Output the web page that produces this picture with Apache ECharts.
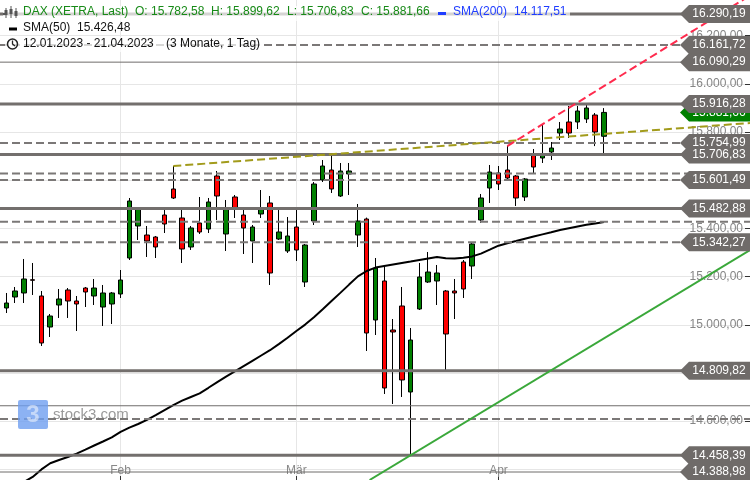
<!DOCTYPE html>
<html><head><meta charset="utf-8">
<script src="https://cdn.jsdelivr.net/npm/echarts@6/dist/echarts.min.js"></script>
<style>html,body{margin:0;padding:0;background:#fff}#c{width:750px;height:480px}</style>
</head><body><div id="c"></div>
<script>
// ---- data ----
const dates = ['12.01.2023','13.01.2023','16.01.2023','17.01.2023','18.01.2023','19.01.2023','20.01.2023','23.01.2023','24.01.2023','25.01.2023','26.01.2023','27.01.2023','30.01.2023','31.01.2023',
 '01.02.2023','02.02.2023','03.02.2023','06.02.2023','07.02.2023','08.02.2023','09.02.2023','10.02.2023','13.02.2023','14.02.2023','15.02.2023','16.02.2023','17.02.2023','20.02.2023','21.02.2023','22.02.2023','23.02.2023','24.02.2023','27.02.2023','28.02.2023',
 '01.03.2023','02.03.2023','03.03.2023','06.03.2023','07.03.2023','08.03.2023','09.03.2023','10.03.2023','13.03.2023','14.03.2023','15.03.2023','16.03.2023','17.03.2023','20.03.2023','21.03.2023','22.03.2023','23.03.2023','24.03.2023','27.03.2023','28.03.2023','29.03.2023','30.03.2023','31.03.2023',
 '03.04.2023','04.04.2023','05.04.2023','06.04.2023','11.04.2023','12.04.2023','13.04.2023','14.04.2023','17.04.2023','18.04.2023','19.04.2023','20.04.2023','21.04.2023'];
const open = [14978.5,15069.8,15115.5,15132.1,15187.0,15119.6,14990.9,15082.2,15144.5,15098.9,15152.8,15119.6,15073.9,15086.4,
 15127.9,15277.3,15410.2,15372.8,15364.5,15455.8,15563.8,15443.4,15323.0,15422.6,15397.7,15617.7,15377.0,15530.6,15455.8,15347.9,15460.0,15505.7,15356.2,15306.4,
 15406.0,15177.7,15430.9,15601.1,15642.6,15534.7,15626.0,15372.8,15439.2,15020.0,15181.9,14978.5,15078.1,14721.1,15065.6,15177.7,15181.9,15140.4,15140.4,15260.7,15244.1,15435.1,15567.9,
 15630.2,15642.6,15617.7,15530.6,15709.0,15692.4,15717.3,15796.2,15841.9,15841.9,15854.3,15870.9,15782.58];
const high = [15078.1,15132.1,15157.0,15273.2,15256.6,15140.4,15044.9,15148.7,15152.8,15119.6,15157.0,15190.2,15165.3,15136.2,
 15227.5,15526.4,15484.9,15410.2,15368.7,15480.7,15659.2,15480.7,15410.2,15530.6,15526.4,15638.5,15518.1,15538.9,15476.6,15414.3,15559.6,15534.7,15480.7,15447.5,
 15480.7,15335.5,15592.8,15684.1,15704.9,15671.7,15671.7,15501.5,15445.0,15277.3,15248.3,15024.1,15157.0,14986.8,15256.6,15302.3,15248.3,15144.5,15190.2,15269.0,15343.8,15543.0,15663.4,
 15659.2,15741.9,15621.9,15609.4,15729.8,15833.6,15758.9,15841.9,15908.3,15908.3,15916.3,15879.2,15899.62];
const low = [14961.9,15049.0,15090.5,15090.5,15123.8,14912.1,14949.4,15028.3,15028.3,14974.3,15073.9,15082.2,14995.1,15003.4,
 15111.3,15269.0,15352.1,15281.5,15277.3,15381.1,15522.2,15256.6,15310.6,15377.0,15381.1,15435.1,15306.4,15443.4,15294.0,15256.6,15443.4,15165.3,15352.1,15298.1,
 15264.9,15157.0,15414.3,15592.8,15547.2,15530.6,15538.9,15323.0,14891.3,14957.7,14712.8,14671.3,14700.4,14458.39,15061.5,15173.6,15082.2,14809.82,15024.1,15111.3,15190.2,15422.6,15505.7,
 15559.6,15605.3,15493.2,15514.0,15630.2,15671.7,15684.1,15767.2,15775.5,15812.8,15837.7,15741.9,15706.83];
const close = [15061.5,15090.5,15140.4,15190.2,15185.0,14924.5,15036.6,15107.2,15098.9,15086.4,15136.2,15152.8,15132.1,15132.1,
 15186.0,15514.0,15480.7,15347.9,15323.0,15418.5,15526.4,15314.7,15401.9,15385.3,15509.8,15534.7,15480.7,15480.7,15401.9,15406.0,15480.7,15215.1,15385.3,15368.7,
 15310.6,15331.3,15584.5,15659.2,15563.8,15638.5,15638.5,15430.9,14966.0,15235.8,14737.7,14970.2,14771.0,14936.9,15198.5,15219.2,15215.1,14961.9,15132.1,15148.7,15335.5,15526.4,15634.3,
 15584.5,15609.4,15526.4,15605.3,15655.1,15704.9,15733.9,15812.8,15796.2,15887.5,15900.0,15800.4,15881.66];
const sma50 = [null,null,null,14347.5,14368.3,14399.8,14425.2,14438.9,14451.3,14465.4,14482.0,14499.0,14515.6,14533.1,
 14555.9,14573.3,14588.3,14605.7,14625.2,14646.0,14666.7,14685.0,14700.4,14715.7,14738.6,14762.2,14785.0,14806.6,14828.6,14850.6,14872.6,14894.6,14920.0,14946.5,
 14974.4,15000.9,15031.6,15064.4,15098.4,15132.5,15166.9,15201.0,15223.4,15237.5,15244.1,15250.4,15256.6,15262.8,15269.1,15275.3,15281.5,15276.1,15274.9,15278.6,15284.0,15295.6,15311.8,
 15328.4,15338.8,15347.9,15357.1,15366.2,15375.3,15384.4,15393.6,15401.0,15408.1,15415.2,15421.0,15426.48];
const yTicks = [14400,14600,14800,15000,15200,15400,15600,15800,16000,16200];
const monthLabels = ['Feb','Mär','Apr'];
const monthStarts = ['01.02.2023','01.03.2023','03.04.2023'];
const solidLevels = [16290.19,15916.28,15706.83,15482.88,14809.82,14458.39];
const dashedLevels = [16161.72,15754.99,15628.0,15601.49,15428.0,15342.27,14609.0];
const thinLevels = [16090.29,14664.0,14388.98];
const taggedLevels = [16290.19,16161.72,16090.29,15916.28,15754.99,15706.83,15601.49,15482.88,15342.27,14809.82,14458.39,14388.98];
const oliveTrend = [[20,15659.2],[85.61,15837.7]];
const redTrend = [[58,15741.9],[85.61,16367.0]];
const greenTrend = [[42.33,14355.8],[85.61,15310.6]];
const legend = {name:'DAX (XETRA, Last)', O:'15.782,58', H:'15.899,62', L:'15.706,83', C:'15.881,66', sma200:'14.117,51', sma50:'15.426,48', range:'12.01.2023 - 21.04.2023', span:'(3 Monate, 1 Tag)'};

// ---- chart ----
const X_MIN = 0.284, X_MAX = 85.61, Y_MIN = 14355.8, Y_MAX = 16348.3;
const FONT = '"Liberation Sans", Arial, sans-serif';
function de(n){ const s = Number(n).toFixed(2).split('.'); return s[0].replace(/\B(?=(\d{3})+(?!\d))/g,'.') + ',' + s[1]; }
const monthIdx = monthStarts.map(d => dates.indexOf(d));

const series = [];
series.push({
  type:'candlestick', z:3,
  data: dates.map((d,i)=>[i, open[i], close[i], low[i], high[i]]),
  encode:{x:0, y:[1,2,3,4]},
  barWidth:5,
  itemStyle:{color:'#008000', color0:'#ff0000', borderColor:'#000', borderColor0:'#000', borderWidth:1}
});
series.push({
  type:'line', z:4, showSymbol:false, silent:true,
  data: sma50.map((v,i)=> v==null?null:[i,v]).filter(p=>p),
  lineStyle:{color:'#000', width:2}
});
function level(v, style){ series.push({type:'line', z:5, showSymbol:false, silent:true, data:[[X_MIN,v],[X_MAX,v]], lineStyle:style}); }
solidLevels.forEach(v=>level(v,{color:'#736f6d', width:3}));
dashedLevels.forEach(v=>level(v,{color:'#7b7877', width:2, type:[8,4]}));
thinLevels.forEach(v=>level(v,{color:'#6f6c6b', width:1}));
function trend(pts, style){ series.push({type:'line', z:6, showSymbol:false, silent:true, data:pts, lineStyle:style}); }
trend(oliveTrend,{color:'#a29b1b', width:2, type:[8,4]});
trend(redTrend,{color:'#ff2a4d', width:2, type:[8,4]});
trend(greenTrend,{color:'#3aa83a', width:2});
const TAG = 'path://M0,9L9,0L70,0L70,18L9,18Z';
function tags(vals, color, z){
  series.push({type:'scatter', z:z, silent:true, symbol:TAG, symbolSize:[70,18], symbolOffset:[-35,0],
    itemStyle:{color:color, opacity:1},
    label:{show:true, position:'inside', offset:[4,0], color:'#fff', fontSize:12, fontFamily:FONT, formatter:p=>de(p.value[1])},
    data: vals.map(v=>[X_MAX, v])});
}
tags([close[close.length-1]], '#008000', 7);
tags(taggedLevels, '#6f6b69', 8);

const g = [];
function txt(x,y,s,color){ g.push({type:'text', x:x, y:y, z:100, style:{text:s, fill:color, font:'12px '+FONT, textVerticalAlign:'middle'}}); }
g.push({type:'rect', z:99, shape:{x:3,y:6,width:567,height:15}, style:{fill:'rgba(255,255,255,0.7)'}});
g.push({type:'rect', z:99, shape:{x:5,y:37,width:257,height:15}, style:{fill:'rgba(255,255,255,0.7)'}});
// candle icon
[[6,8,18,10,15],[11,6,18,9,14],[16,8,18,11,16]].forEach(a=>{
  g.push({type:'line', z:100, shape:{x1:a[0],y1:a[1],x2:a[0],y2:a[2]}, style:{stroke:'#555', lineWidth:1}});
  g.push({type:'rect', z:100, shape:{x:a[0]-1.5,y:a[3],width:3,height:a[4]-a[3]}, style:{fill:'#555'}});
});
g.push({type:'line', z:100, shape:{x1:3,y1:14,x2:6,y2:14}, style:{stroke:'#555', lineWidth:2}});
txt(23,12,legend.name,'#178a17');
txt(135,12,'O: '+legend.O,'#178a17');
txt(211,12,'H: '+legend.H,'#178a17');
txt(287,12,'L: '+legend.L,'#178a17');
txt(361,12,'C: '+legend.C,'#178a17');
g.push({type:'rect', z:100, shape:{x:438,y:12,width:8,height:3}, style:{fill:'#1f3dff'}});
txt(453,12,'SMA(200)','#1f3dff');
txt(514,12,legend.sma200,'#1f3dff');
g.push({type:'rect', z:100, shape:{x:9,y:27.5,width:8,height:3}, style:{fill:'#000'}});
txt(23,28,'SMA(50)','#111');
txt(77,28,legend.sma50,'#111');
g.push({type:'circle', z:100, shape:{cx:12.5,cy:44,r:5}, style:{stroke:'#222', fill:'none', lineWidth:1.5}});
g.push({type:'polyline', z:100, shape:{points:[[12.5,40.5],[12.5,44],[15,46]]}, style:{stroke:'#222', fill:'none', lineWidth:1.3}});
txt(23,44,legend.range,'#111');
txt(166,44,legend.span,'#111');
// watermark
g.push({type:'rect', z:50, shape:{x:18,y:400,width:30,height:29,r:2}, style:{fill:'#6f9ff0', opacity:0.8}});
g.push({type:'text', z:51, x:33, y:415, style:{text:'3', fill:'rgba(255,255,255,0.5)', font:'bold 24px '+FONT, textAlign:'center', textVerticalAlign:'middle'}});
g.push({type:'text', z:51, x:53, y:415, style:{text:'stock3.com', fill:'rgba(120,120,120,0.75)', font:'15px '+FONT, textVerticalAlign:'middle'}});

const chart = echarts.init(document.getElementById('c'), null, {renderer:'canvas'});
chart.setOption({
  animation:false,
  backgroundColor:'#fff',
  grid:{left:0, right:0, top:0, bottom:0, containLabel:false},
  xAxis:{type:'value', min:X_MIN, max:X_MAX,
    axisLine:{show:false},
    axisTick:{show:true, inside:true, length:4, customValues:monthIdx, lineStyle:{color:'#333'}},
    axisLabel:{inside:true, customValues:monthIdx, margin:3, color:'#888', fontSize:12, fontFamily:FONT,
      formatter:v=>{ const k = monthIdx.indexOf(Math.round(v)); return k>=0?monthLabels[k]:''; }},
    splitLine:{show:true, lineStyle:{color:'#e6e6e6', width:1}}},
  yAxis:{type:'value', position:'right', min:Y_MIN, max:Y_MAX, scale:true,
    axisLine:{show:false},
    axisTick:{show:true, inside:true, length:5, customValues:yTicks, lineStyle:{color:'#333'}},
    axisLabel:{inside:true, customValues:yTicks, margin:7, color:'#858585', fontSize:12, fontFamily:FONT, formatter:v=>de(v)},
    splitLine:{show:true, lineStyle:{color:'#e6e6e6', width:1}}},
  series:series,
  graphic:g
});
</script></body></html>
